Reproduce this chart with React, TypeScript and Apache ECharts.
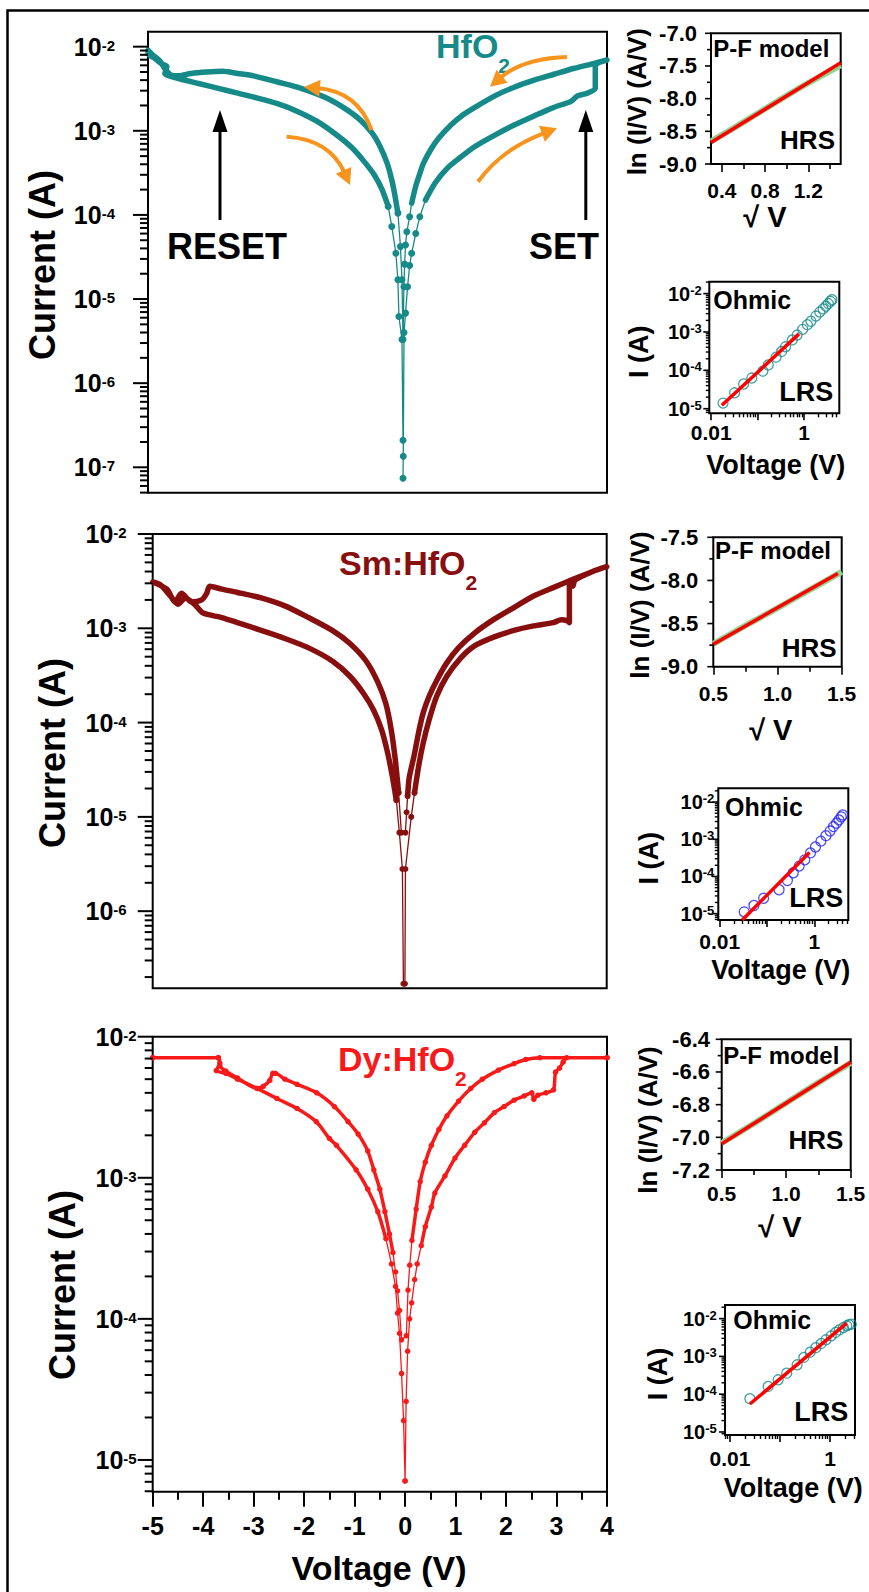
import React, { useEffect, useRef } from 'react';
import * as echarts from 'echarts';

const FONT = '"Liberation Sans", Arial, Helvetica, sans-serif';
const TEAL = '#168a88';
const MAROON = '#880f0f';
const RED = '#f81a1a';
const ORANGE = '#f7941d';
const BLUE = '#2222ff';
const FIT_RED = '#ff0000';
const GREEN = '#8ed48e';

// ===== Main I-V loops: [voltage (V), current (A)] =====
// HfO2
const hfoLowRight = [[0, 7.4e-8], [0.005, 1.35e-7], [0.02, 4.0e-6], [0.05, 6.8e-6], [0.09, 1.4e-5], [0.13, 2.5e-5], [0.17, 3.5e-5], [0.25, 6.0e-5], [0.33, 9.5e-5], [0.44, 1.5e-4], [0.63, 2.4e-4], [0.87, 3.6e-4], [1.1, 4.7e-4], [1.41, 6.5e-4], [1.8, 8.9e-4], [2.18, 1.17e-3], [2.57, 1.5e-3], [2.96, 1.9e-3], [3.27, 2.2e-3], [3.34, 2.35e-3], [3.42, 2.6e-3], [3.58, 2.75e-3], [3.77, 3.2e-3], [3.77, 6.0e-3], [3.88, 6.6e-3], [4.0, 6.95e-3]];
const hfoUpRight = [[4.0, 6.95e-3], [3.73, 6.3e-3], [3.34, 5.5e-3], [2.96, 4.7e-3], [2.57, 4.0e-3], [2.18, 3.3e-3], [1.8, 2.6e-3], [1.41, 1.9e-3], [1.18, 1.55e-3], [0.94, 1.17e-3], [0.71, 8.3e-4], [0.56, 6.2e-4], [0.4, 4.1e-4], [0.33, 3.1e-4], [0.25, 2.2e-4], [0.17, 1.38e-4], [0.13, 9.5e-5], [0.075, 6.3e-5], [0.05, 4.4e-5], [0.032, 2.6e-5], [0.018, 1.4e-5], [0.0, 3.3e-6]];
const hfoUpLeft = [[-0.02, 1.7e-5], [-0.05, 4.2e-5], [-0.1, 1.05e-4], [-0.155, 1.66e-4], [-0.22, 2.6e-4], [-0.31, 4.1e-4], [-0.45, 6.5e-4], [-0.6, 9.3e-4], [-0.84, 1.35e-3], [-1.15, 1.86e-3], [-1.53, 2.5e-3], [-2.0, 3.2e-3], [-2.46, 3.8e-3], [-2.93, 4.5e-3], [-3.24, 4.8e-3], [-3.54, 5.1e-3], [-3.85, 5.0e-3], [-4.16, 4.8e-3], [-4.4, 4.5e-3], [-4.55, 4.6e-3], [-4.67, 5.5e-3], [-4.78, 6.9e-3], [-4.9, 7.9e-3], [-5.0, 9.1e-3]];
const hfoLowLeft = [[-5.0, 8.3e-3], [-4.86, 7.2e-3], [-4.74, 6.3e-3], [-4.63, 5.8e-3], [-4.67, 4.8e-3], [-4.47, 4.3e-3], [-4.01, 3.65e-3], [-3.62, 3.2e-3], [-3.24, 2.8e-3], [-2.85, 2.45e-3], [-2.46, 2.1e-3], [-2.07, 1.7e-3], [-1.69, 1.3e-3], [-1.3, 8.9e-4], [-0.99, 6.2e-4], [-0.76, 4.3e-4], [-0.565, 3.0e-4], [-0.41, 2.0e-4], [-0.29, 1.26e-4], [-0.22, 7.3e-5], [-0.14, 3.5e-5], [-0.1, 1.7e-5], [-0.08, 6.2e-6], [-0.02, 3.3e-6], [0, 2.1e-7]];

// Sm:HfO2
const smLowRight = [[0, 1.7e-7], [0.01, 2.8e-6], [0.125, 1.0e-5], [0.19, 1.8e-5], [0.27, 3.4e-5], [0.36, 6.0e-5], [0.48, 1.07e-4], [0.63, 1.9e-4], [0.83, 3.1e-4], [1.1, 4.8e-4], [1.38, 6.5e-4], [1.77, 8.1e-4], [2.16, 9.5e-4], [2.55, 1.06e-3], [2.94, 1.15e-3], [3.1, 1.23e-3], [3.22, 1.2e-3], [3.26, 1.15e-3], [3.26, 3.1e-3], [3.33, 2.8e-3], [3.37, 3.25e-3], [3.72, 4.0e-3], [4.0, 4.5e-3]];
const smUpRight = [[4.0, 4.5e-3], [3.72, 4.0e-3], [3.33, 3.3e-3], [2.94, 2.7e-3], [2.55, 2.2e-3], [2.16, 1.66e-3], [1.77, 1.25e-3], [1.38, 8.9e-4], [1.06, 6.2e-4], [0.83, 4.3e-4], [0.63, 2.8e-4], [0.48, 1.9e-4], [0.36, 1.26e-4], [0.27, 7.8e-5], [0.18, 4.4e-5], [0.085, 2.6e-5], [0.053, 1.66e-5], [0.033, 1.12e-5], [0.01, 6.8e-6]];
const smUpLeft = [[-0.07, 6.8e-6], [-0.125, 1.8e-5], [-0.19, 4.0e-5], [-0.27, 8.3e-5], [-0.38, 1.6e-4], [-0.54, 2.7e-4], [-0.77, 4.5e-4], [-1.09, 6.9e-4], [-1.44, 9.5e-4], [-1.91, 1.3e-3], [-2.38, 1.73e-3], [-2.85, 2.1e-3], [-3.32, 2.4e-3], [-3.63, 2.6e-3], [-3.87, 2.8e-3], [-3.93, 2.35e-3], [-4.03, 2.0e-3], [-4.23, 1.9e-3], [-4.43, 2.35e-3], [-4.56, 1.9e-3], [-4.72, 2.6e-3], [-5.0, 3.1e-3]];
const smLowLeft = [[-5.0, 3.1e-3], [-4.85, 2.9e-3], [-4.65, 2.2e-3], [-4.5, 1.8e-3], [-4.35, 2.1e-3], [-4.15, 1.75e-3], [-4.0, 1.45e-3], [-3.63, 1.3e-3], [-3.32, 1.15e-3], [-2.85, 9.5e-4], [-2.38, 7.8e-4], [-1.91, 6.2e-4], [-1.44, 4.5e-4], [-1.09, 3.1e-4], [-0.81, 2.0e-4], [-0.62, 1.35e-4], [-0.46, 8.3e-5], [-0.34, 4.7e-5], [-0.25, 2.7e-5], [-0.17, 1.5e-5], [-0.11, 6.8e-6], [-0.05, 2.8e-6], [-0.03, 1.7e-7]];

// Dy:HfO2
const dyLowRight = [[0, 7.1e-6], [0.02, 2.6e-5], [0.05, 5.9e-5], [0.09, 1.0e-4], [0.13, 1.3e-4], [0.19, 1.9e-4], [0.24, 2.45e-4], [0.32, 3.3e-4], [0.4, 4.5e-4], [0.52, 6.2e-4], [0.59, 7.8e-4], [0.79, 1.03e-3], [0.99, 1.38e-3], [1.18, 1.7e-3], [1.38, 2.1e-3], [1.57, 2.45e-3], [1.77, 2.9e-3], [1.96, 3.2e-3], [2.16, 3.55e-3], [2.36, 3.8e-3], [2.51, 4.0e-3], [2.55, 3.6e-3], [2.63, 3.85e-3], [2.79, 4.0e-3], [2.94, 4.2e-3], [2.98, 5.6e-3], [3.06, 6.0e-3], [3.13, 6.6e-3], [3.2, 7.1e-3], [4.0, 7.1e-3]];
const dyUpRight = [[4.0, 7.1e-3], [2.67, 7.1e-3], [2.39, 6.9e-3], [2.16, 6.45e-3], [1.85, 5.8e-3], [1.53, 5.0e-3], [1.3, 4.3e-3], [1.06, 3.5e-3], [0.83, 2.75e-3], [0.67, 2.2e-3], [0.52, 1.7e-3], [0.4, 1.29e-3], [0.3, 9.4e-4], [0.22, 6.0e-4], [0.136, 3.6e-4], [0.092, 2.4e-4], [0.058, 1.6e-4], [0.025, 7.6e-5]];
const dyUpLeft = [[-0.07, 7.1e-5], [-0.11, 1.15e-4], [-0.15, 1.58e-4], [-0.19, 2.15e-4], [-0.24, 2.95e-4], [-0.31, 4.0e-4], [-0.4, 5.75e-4], [-0.5, 8.3e-4], [-0.62, 1.14e-3], [-0.74, 1.55e-3], [-0.93, 2.04e-3], [-1.13, 2.5e-3], [-1.4, 3.2e-3], [-1.75, 4.0e-3], [-2.14, 4.6e-3], [-2.38, 5.0e-3], [-2.57, 5.5e-3], [-2.62, 5.5e-3], [-2.68, 4.9e-3], [-2.81, 4.45e-3], [-2.93, 4.3e-3], [-3.32, 5.1e-3], [-3.55, 5.7e-3], [-3.67, 6.2e-3], [-3.7, 7.1e-3], [-5.0, 7.1e-3]];
const dyLowLeft = [[-5.0, 7.1e-3], [-3.7, 7.1e-3], [-3.67, 6.5e-3], [-3.74, 5.75e-3], [-3.55, 5.5e-3], [-3.32, 5.0e-3], [-2.93, 4.3e-3], [-2.54, 3.65e-3], [-2.14, 3.1e-3], [-1.76, 2.5e-3], [-1.5, 1.9e-3], [-1.36, 1.7e-3], [-0.97, 1.14e-3], [-0.74, 8.3e-4], [-0.54, 5.75e-4], [-0.38, 3.7e-4], [-0.27, 2.45e-4], [-0.19, 1.7e-4], [-0.15, 1.1e-4], [-0.11, 7.9e-5], [-0.07, 4.1e-5], [-0.03, 1.9e-5], [0, 7.1e-6]];

// ===== P-F insets: [sqrt(V), ln(I/V)] =====
const pf1Data = [[0.3, -8.655], [0.6, -8.36], [0.9, -8.055], [1.2, -7.76], [1.5, -7.49]];
const pf1Fit = [[0.3, -8.67], [1.5, -7.45]];
const pf2Data = [[0.5, -8.735], [0.75, -8.525], [1.0, -8.32], [1.25, -8.11], [1.5, -7.9]];
const pf2Fit = [[0.5, -8.74], [1.47, -7.92]];
const pf3Data = [[0.5, -7.035], [0.75, -6.915], [1.0, -6.79], [1.25, -6.665], [1.5, -6.545]];
const pf3Fit = [[0.5, -7.04], [1.5, -6.54]];

// ===== Ohmic fits: [V, I(A)] =====
const ohm1Fit = [[0.017, 1.23e-5], [0.78, 8.9e-4]];
const ohm2Fit = [[0.03, 6.8e-6], [0.79, 4.4e-4]];
const ohm3Fit = [[0.025, 5.5e-5], [2.16, 7.6e-3]];

// ===== tick values =====
const MAIN_X_TICKS = [-5, -4, -3, -2, -1, 0, 1, 2, 3, 4];
const MAIN_X_MINOR = [-4.5, -3.5, -2.5, -1.5, -0.5, 0.5, 1.5, 2.5, 3.5];
const HFO_Y_EXP = [-7, -6, -5, -4, -3, -2];
const SM_Y_EXP = [-6, -5, -4, -3, -2];
const DY_Y_EXP = [-5, -4, -3, -2];
const OHM_Y_EXP = [-5, -4, -3, -2];
const OHM_X_EXP = [-2, -1, 0];
const OHM_X_LABEL_EXP = [-2, 0];
const PF1_X = [0.4, 0.8, 1.2];
const PF1_X_MINOR = [0.6, 1.0, 1.4];
const PF1_Y = [-9, -8.5, -8, -7.5, -7];
const PF1_Y_MINOR = [-8.75, -8.25, -7.75, -7.25];
const PF2_X = [0.5, 1.0, 1.5];
const PF2_X_MINOR = [0.75, 1.25];
const PF2_Y = [-9, -8.5, -8, -7.5];
const PF2_Y_MINOR = [-8.75, -8.25, -7.75];
const PF3_X = [0.5, 1.0, 1.5];
const PF3_X_MINOR = [0.75, 1.25];
const PF3_Y = [-7.2, -7.0, -6.8, -6.6, -6.4];
const PF3_Y_MINOR = [-7.1, -6.9, -6.7, -6.5];

function logMinor(min: number, max: number) {
  const out: number[] = [];
  for (let n = Math.floor(min) - 1; n <= Math.ceil(max); n++) {
    for (let k = 2; k <= 9; k++) {
      const v = n + Math.log10(k);
      if (v > min && v < max) out.push(v);
    }
  }
  return out;
}

const lg = (p: number[]) => [p[0], Math.log10(p[1])];
const lglg = (p: number[]) => [Math.log10(p[0]), Math.log10(p[1])];
const expFmt = (v: number) => `{b|10}{s|${Math.round(v)}}`;
const fix1 = (v: number) => v.toFixed(1);
const decFmt = (v: number) => String(Math.round(Math.pow(10, v) * 1000) / 1000);
const expRich = (base: number, sup: number, pb: number, ps: number) => ({
  b: { fontSize: base, lineHeight: base, fontWeight: 'bold', fontFamily: FONT, color: '#000', padding: [pb, 0, 0, 0], verticalAlign: 'bottom' },
  s: { fontSize: sup, lineHeight: sup, fontWeight: 'bold', fontFamily: FONT, color: '#000', padding: [ps, 0, 0, 0], verticalAlign: 'top' },
});

function buildOption() {
  const grid: any[] = [];
  const xAxis: any[] = [];
  const yAxis: any[] = [];
  const series: any[] = [];
  const graphic: any[] = [];

  const addGrid = (left: number, top: number, width: number, height: number) => {
    grid.push({ left, top, width, height, show: true, borderColor: '#000', borderWidth: 2, backgroundColor: 'rgba(0,0,0,0)', containLabel: false, outerBoundsMode: 'none' });
    return grid.length - 1;
  };
  const addAxis = (dim: 'x' | 'y', gridIndex: number, min: number, max: number, o: any = {}) => {
    const list = dim === 'x' ? xAxis : yAxis;
    list.push({
      type: 'value', gridIndex, min, max, position: dim === 'x' ? 'bottom' : 'left', silent: true,
      axisLine: { show: false, onZero: false }, splitLine: { show: false }, minorTick: { show: false }, minorSplitLine: { show: false },
      axisTick: o.ticks ? { show: true, inside: false, length: o.len, lineStyle: { color: '#000', width: o.w ?? 2 }, customValues: o.ticks } : { show: false },
      axisLabel: o.labels ? { show: true, customValues: o.labels, formatter: o.fmt, margin: o.margin, color: '#000', fontFamily: FONT, fontWeight: 'bold', fontSize: o.size, rich: o.rich } : { show: false },
    });
    return list.length - 1;
  };
  // y-axis tick marks: the same linear map as the value axis (grid top/height, axis min/max)
  const yTicks = (left: number, top: number, height: number, yr: number[], values: number[], len: number, w: number) => {
    values.forEach((v) => {
      const y = top + (height * (yr[1] - v)) / (yr[1] - yr[0]);
      graphic.push({ type: 'line', silent: true, z: 95, shape: { x1: left - len, y1: y, x2: left, y2: y }, style: { stroke: '#000', lineWidth: w } });
    });
  };

  const loopSeries = (xi: number, yi: number, lowR: number[][], upR: number[][], upL: number[][], lowL: number[][], color: string, thickW: number, thickThr: number, dotThr: number, dotSize: number) => {
    const right = [...lowR, ...upR];
    const left = [...upL, ...lowL];
    const all = [...lowR, ...upR, ...upL, ...lowL].map(lg);
    const lt = Math.log10(dotThr);
    const base = { type: 'line', xAxisIndex: xi, yAxisIndex: yi, silent: true, clip: true, emphasis: { disabled: true } };
    const thick = { symbol: 'none', smooth: 0.25, lineStyle: { color, width: thickW, join: 'round', cap: 'round' }, z: 3 };
    return [
      { ...base, ...thick, data: right.filter((p) => p[1] >= thickThr).map(lg) },
      { ...base, ...thick, data: left.filter((p) => p[1] >= thickThr).map(lg) },
      { ...base, data: all, symbol: 'circle', symbolSize: (v: number[]) => (v[1] < lt ? dotSize : 0), itemStyle: { color }, lineStyle: { color, width: 1.3 }, z: 4 },
    ];
  };

  const mainPanel = (left: number, top: number, width: number, height: number, yMin: number, yMax: number, yExp: number[], margin: number, withX: boolean) => {
    const g = addGrid(left, top, width, height);
    const xi = withX
      ? addAxis('x', g, -5, 4, { ticks: MAIN_X_TICKS, len: 15, labels: MAIN_X_TICKS, fmt: (v: number) => String(v), margin: 22, size: 25 })
      : addAxis('x', g, -5, 4);
    if (withX) addAxis('x', g, -5, 4, { ticks: MAIN_X_MINOR, len: 8 });
    const yi = addAxis('y', g, yMin, yMax, { labels: yExp, fmt: expFmt, margin, size: 25, rich: expRich(25, 15, 10, 3.5) });
    yTicks(left, top, height, [yMin, yMax], yExp, 15, 2);
    yTicks(left, top, height, [yMin, yMax], logMinor(yMin, yMax), 8, 2);
    return { xi, yi };
  };

  const pfPanel = (left: number, top: number, width: number, height: number, xr: number[], yr: number[], xt: number[], xm: number[], yt: number[], ym: number[], xMargin: number, yMargin: number, data: number[][], fit: number[][]) => {
    const g = addGrid(left, top, width, height);
    const xi = addAxis('x', g, xr[0], xr[1], { ticks: xt, len: 8, w: 1.6, labels: xt, fmt: fix1, margin: xMargin, size: 21 });
    addAxis('x', g, xr[0], xr[1], { ticks: xm, len: 5, w: 1.6 });
    const yi = addAxis('y', g, yr[0], yr[1], { labels: yt, fmt: fix1, margin: yMargin, size: 22 });
    yTicks(left, top, height, yr, yt, 6, 1.6);
    yTicks(left, top, height, yr, ym, 4, 1.6);
    series.push({ type: 'line', xAxisIndex: xi, yAxisIndex: yi, data, symbol: 'none', smooth: 0.3, lineStyle: { color: GREEN, width: 6 }, silent: true, clip: true, z: 3 });
    series.push({ type: 'line', xAxisIndex: xi, yAxisIndex: yi, data: fit, symbol: 'none', lineStyle: { color: FIT_RED, width: 3.5 }, silent: true, clip: true, z: 4 });
  };

  const ohmPanel = (left: number, top: number, width: number, height: number, xr: number[], yr: number[], xMargin: number, yMargin: number, pts: number[][], color: string, fit: number[][]) => {
    const g = addGrid(left, top, width, height);
    const xi = addAxis('x', g, xr[0], xr[1], { ticks: OHM_X_EXP.filter((v) => v >= xr[0] && v <= xr[1]), len: 7, w: 1.6, labels: OHM_X_LABEL_EXP, fmt: decFmt, margin: xMargin, size: 21 });
    addAxis('x', g, xr[0], xr[1], { ticks: logMinor(xr[0], xr[1]), len: 4, w: 1.4 });
    const yi = addAxis('y', g, yr[0], yr[1], { labels: OHM_Y_EXP, fmt: expFmt, margin: yMargin, size: 20, rich: expRich(20, 13, 6, 0) });
    yTicks(left, top, height, yr, OHM_Y_EXP, 6, 1.6);
    yTicks(left, top, height, yr, logMinor(yr[0], yr[1]), 3.5, 1.4);
    series.push({ type: 'scatter', xAxisIndex: xi, yAxisIndex: yi, data: pts.filter((p) => p[0] >= 0.015).map(lglg), symbol: 'circle', symbolSize: 10, itemStyle: { color: 'rgba(0,0,0,0)', borderColor: color, borderWidth: 1.3 }, silent: true, clip: true, z: 3 });
    series.push({ type: 'line', xAxisIndex: xi, yAxisIndex: yi, data: fit.map(lglg), symbol: 'none', lineStyle: { color: FIT_RED, width: 3.5 }, silent: true, clip: true, z: 4 });
  };

  // main panels
  const p1 = mainPanel(148, 31.7, 459, 461, -7.302, -1.822, HFO_Y_EXP, 33, false);
  series.push(...loopSeries(p1.xi, p1.yi, hfoLowRight, hfoUpRight, hfoUpLeft, hfoLowLeft, TEAL, 5.5, 1e-4, 1.3e-4, 7));
  const p2 = mainPanel(152.7, 534, 454, 454.3, -6.818, -2, SM_Y_EXP, 26, false);
  series.push(...loopSeries(p2.xi, p2.yi, smLowRight, smUpRight, smUpLeft, smLowLeft, MAROON, 5.5, 1.5e-5, 2e-5, 6));
  const p3 = mainPanel(152.7, 1036.7, 454.3, 455, -5.225, -2, DY_Y_EXP, 16, true);
  series.push(...loopSeries(p3.xi, p3.yi, dyLowRight, dyUpRight, dyUpLeft, dyLowLeft, RED, 3.5, 2.5e-4, 1, 5.5));

  // insets
  pfPanel(711, 33.3, 129.7, 130.7, [0.3, 1.5], [-9, -7], PF1_X, PF1_X_MINOR, PF1_Y, PF1_Y_MINOR, 15.5, 14, pf1Data, pf1Fit);
  ohmPanel(709.3, 281.7, 130, 131.6, [-2.04, 0.76], [-5.12, -1.69], 8.5, 7.6, hfoUpRight, TEAL, ohm1Fit);
  pfPanel(713.3, 537.3, 128.4, 129.4, [0.5, 1.5], [-9, -7.5], PF2_X, PF2_X_MINOR, PF2_Y, PF2_Y_MINOR, 16, 15, pf2Data, pf2Fit);
  ohmPanel(718.3, 788.3, 130, 131.7, [-2.03, 0.72], [-5.17, -1.63], 11, 4, smUpRight, BLUE, ohm2Fit);
  pfPanel(721.7, 1039.3, 129, 130.7, [0.5, 1.5], [-7.2, -6.4], PF3_X, PF3_X_MINOR, PF3_Y, PF3_Y_MINOR, 12.8, 11.7, pf3Data, pf3Fit);
  ohmPanel(725, 1305, 130, 130, [-2.1, 0.5], [-5.08, -1.64], 12.8, 8.3, dyUpRight, TEAL, ohm3Fit);

  // ---- graphics ----
  const txt = (x: number, y: number, text: string, size: number, o: any = {}) => ({
    type: 'text', x, y, rotation: o.rot || 0, silent: true, z: 100,
    style: { text, fill: o.color || '#000', fontSize: size, fontWeight: 'bold', fontFamily: FONT, align: o.align || 'center', verticalAlign: o.va || 'middle' },
  });
  const chem = (x: number, yTop: number, main: string, color: string) => ({
    type: 'text', x, y: yTop, silent: true, z: 100,
    style: {
      text: `{a|${main}}{b|2}`, fill: color, align: 'left', verticalAlign: 'top', fontSize: 34, fontWeight: 'bold', fontFamily: FONT,
      rich: {
        a: { fontSize: 34, lineHeight: 34, fontWeight: 'bold', fontFamily: FONT, fill: color, color, verticalAlign: 'top' },
        b: { fontSize: 21, lineHeight: 21, fontWeight: 'bold', fontFamily: FONT, fill: color, color, padding: [26, 0, 0, 0], verticalAlign: 'top' },
      },
    },
  });
  const R90 = Math.PI / 2;

  // outer frame
  graphic.push({ type: 'rect', silent: true, z: 90, shape: { x: 7.5, y: 10.5, width: 900, height: 1620 }, style: { fill: 'none', stroke: '#000', lineWidth: 2.5 } });

  // main panel texts
  graphic.push(txt(42.5, 265, 'Current (A)', 36, { rot: R90 }));
  graphic.push(txt(52.4, 753, 'Current (A)', 36, { rot: R90 }));
  graphic.push(txt(62.5, 1285, 'Current (A)', 36, { rot: R90 }));
  graphic.push(txt(379, 1568, 'Voltage (V)', 34));
  graphic.push(chem(436, 29, 'HfO', TEAL));
  graphic.push(chem(339, 545.5, 'Sm:HfO', MAROON));
  graphic.push(chem(338, 1042, 'Dy:HfO', RED));
  graphic.push(txt(227, 246.5, 'RESET', 36));
  graphic.push(txt(564, 246.5, 'SET', 36));

  // black arrows
  const blackArrow = (x: number, tipY: number, botY: number) => [
    { type: 'line', silent: true, z: 100, shape: { x1: x, y1: botY, x2: x, y2: tipY + 18 }, style: { stroke: '#000', lineWidth: 3 } },
    { type: 'polygon', silent: true, z: 100, shape: { points: [[x, tipY], [x - 7.5, tipY + 22], [x + 7.5, tipY + 22]] }, style: { fill: '#000' } },
  ];
  graphic.push(...blackArrow(220, 110, 220));
  graphic.push(...blackArrow(585.8, 110, 220));

  // orange curved arrows
  const curvedArrow = (p0: number[], c: number[], tip: number[]) => {
    const dx = tip[0] - c[0];
    const dy = tip[1] - c[1];
    const L = Math.hypot(dx, dy);
    const ux = dx / L;
    const uy = dy / L;
    const nx = -uy;
    const ny = ux;
    const b = [tip[0] - ux * 16, tip[1] - uy * 16];
    return [
      { type: 'bezierCurve', silent: true, z: 100, shape: { x1: p0[0], y1: p0[1], x2: b[0] + ux * 3, y2: b[1] + uy * 3, cpx1: c[0], cpy1: c[1] }, style: { stroke: ORANGE, lineWidth: 4, fill: 'none' } },
      { type: 'polygon', silent: true, z: 100, shape: { points: [tip, [b[0] + nx * 8.5, b[1] + ny * 8.5], [b[0] - nx * 8.5, b[1] - ny * 8.5]] }, style: { fill: ORANGE } },
    ];
  };
  graphic.push(...curvedArrow([567, 57], [522.9, 58.3], [490, 86.7]));
  graphic.push(...curvedArrow([371.5, 130], [357.9, 91.5], [304, 87]));
  graphic.push(...curvedArrow([286.6, 136.7], [329.7, 139.2], [350, 185]));
  graphic.push(...curvedArrow([478, 181.7], [502.5, 148.4], [557, 128.3]));

  // inset texts
  graphic.push(txt(636.7, 101.7, 'ln (I/V) (A/V)', 26, { rot: R90 }));
  graphic.push(txt(713.3, 48.3, 'P-F model', 24, { align: 'left' }));
  graphic.push(txt(835, 140, 'HRS', 26, { align: 'right' }));
  graphic.push(txt(765, 216.7, '√ V', 29));

  graphic.push(txt(639, 351.7, 'I (A)', 27, { rot: R90 }));
  graphic.push(txt(775.8, 465, 'Voltage (V)', 27));
  graphic.push(txt(713.3, 300, 'Ohmic', 25, { align: 'left' }));
  graphic.push(txt(833.3, 391.7, 'LRS', 27, { align: 'right' }));

  graphic.push(txt(640, 605, 'ln (I/V) (A/V)', 26, { rot: R90 }));
  graphic.push(txt(715, 550, 'P-F model', 24, { align: 'left' }));
  graphic.push(txt(836.7, 648.3, 'HRS', 26, { align: 'right' }));
  graphic.push(txt(770.8, 730, '√ V', 29));

  graphic.push(txt(649, 858.3, 'I (A)', 27, { rot: R90 }));
  graphic.push(txt(780.8, 970, 'Voltage (V)', 27));
  graphic.push(txt(725, 806.7, 'Ohmic', 25, { align: 'left' }));
  graphic.push(txt(843.3, 898.3, 'LRS', 27, { align: 'right' }));

  graphic.push(txt(648.3, 1120, 'ln (I/V) (A/V)', 26, { rot: R90 }));
  graphic.push(txt(723.3, 1055, 'P-F model', 24, { align: 'left' }));
  graphic.push(txt(843.3, 1140, 'HRS', 26, { align: 'right' }));
  graphic.push(txt(780, 1226.7, '√ V', 29));

  graphic.push(txt(657.5, 1374, 'I (A)', 27, { rot: R90 }));
  graphic.push(txt(793.3, 1488.3, 'Voltage (V)', 27));
  graphic.push(txt(733.3, 1320, 'Ohmic', 25, { align: 'left' }));
  graphic.push(txt(848.3, 1411.7, 'LRS', 27, { align: 'right' }));

  return {
    animation: false,
    backgroundColor: '#ffffff',
    textStyle: { fontFamily: FONT },
    grid, xAxis, yAxis, series, graphic,
  };
}

export default function App() {
  const ref = useRef<HTMLDivElement>(null);
  useEffect(() => {
    if (!ref.current) return;
    const chart = echarts.init(ref.current, null, { renderer: 'svg', width: 869, height: 1592 });
    chart.setOption(buildOption() as any);
    return () => chart.dispose();
  }, []);
  return <div ref={ref} style={{ position: 'absolute', left: 0, top: 0, width: 869, height: 1592, background: '#fff' }} />;
}
